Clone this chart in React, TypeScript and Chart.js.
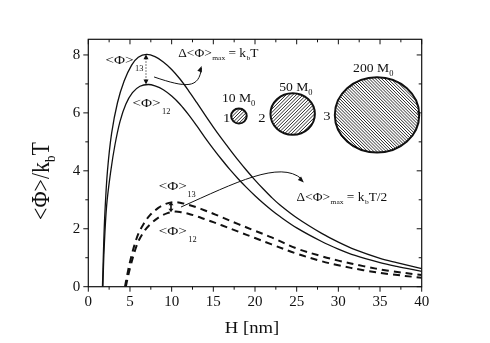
import React, { useEffect, useRef } from "react";
import { Chart, registerables } from "chart.js";

Chart.register(...registerables);

// ---- data ----
const hSolid13 = [1.7, 1.85, 2.0, 2.3, 2.8, 3.5, 4.3, 5.2, 6.0, 7, 8, 9, 10, 11, 12, 13, 14, 15, 16, 17, 18, 19, 20, 21, 22, 23, 25, 28, 30, 32, 35, 37, 40];
const phiSolid13 = [0, 1.5, 2.6, 4.0, 5.3, 6.35, 7.1, 7.65, 7.92, 8.02, 7.94, 7.76, 7.5, 7.17, 6.78, 6.36, 5.93, 5.51, 5.11, 4.73, 4.36, 4.01, 3.68, 3.37, 3.08, 2.82, 2.38, 1.84, 1.54, 1.28, 0.98, 0.83, 0.62];

const hSolid12 = [1.75, 1.9, 2.2, 2.7, 3.2, 3.8, 4.5, 5.3, 6.2, 7.2, 8, 9, 10, 11, 12, 13, 14, 15, 16, 17, 18, 19, 20, 21, 22, 23, 25, 28, 30, 32, 35, 37, 40];
const phiSolid12 = [0, 1.3, 2.8, 4.0, 4.9, 5.7, 6.3, 6.7, 6.92, 6.98, 6.93, 6.8, 6.58, 6.3, 5.95, 5.56, 5.15, 4.76, 4.39, 4.04, 3.72, 3.42, 3.14, 2.88, 2.64, 2.42, 2.03, 1.56, 1.3, 1.08, 0.83, 0.7, 0.53];

const hDash13 = [4.4, 4.7, 5.0, 5.5, 6.0, 6.6, 7.4, 8.4, 9.3, 10.2, 11, 12, 13, 14, 15, 16, 18, 20, 22, 25, 28, 30, 33, 36, 40];
const phiDash13 = [0, 0.45, 0.85, 1.4, 1.82, 2.15, 2.47, 2.72, 2.86, 2.92, 2.9, 2.83, 2.74, 2.63, 2.52, 2.4, 2.16, 1.93, 1.7, 1.32, 1.05, 0.9, 0.71, 0.55, 0.4];

const hDash12 = [4.5, 4.8, 5.1, 5.6, 6.1, 6.8, 7.6, 8.6, 9.5, 10.3, 11, 12, 13, 14, 15, 16, 18, 20, 22, 25, 28, 30, 33, 36, 40];
const phiDash12 = [0, 0.4, 0.75, 1.25, 1.62, 1.95, 2.2, 2.42, 2.54, 2.59, 2.58, 2.52, 2.43, 2.33, 2.23, 2.12, 1.9, 1.68, 1.46, 1.14, 0.88, 0.74, 0.57, 0.44, 0.31];

const xMin = 0;
const xMax = 40;
const xStep = 5;
const yMin = 0;
const yMax = 8.54;
const yStep = 2;

const SERIF = '"Liberation Serif", "Times New Roman", Times, serif';
const INK = "#111111";

type Seg = { t: string; size: number; dy?: number; dx?: number };

function drawRich(ctx: CanvasRenderingContext2D, segs: Seg[], x: number, y: number, sx: number) {
  ctx.save();
  ctx.translate(x, y);
  ctx.scale(sx, 1);
  ctx.textBaseline = "alphabetic";
  ctx.textAlign = "left";
  let cx = 0;
  for (const s of segs) {
    cx += s.dx || 0;
    ctx.font = `${s.size}px ${SERIF}`;
    ctx.fillText(s.t, cx, s.dy || 0);
    cx += ctx.measureText(s.t).width;
  }
  ctx.restore();
}

function richWidth(ctx: CanvasRenderingContext2D, segs: Seg[]) {
  let w = 0;
  for (const s of segs) {
    ctx.font = `${s.size}px ${SERIF}`;
    w += (s.dx || 0) + ctx.measureText(s.t).width;
  }
  return w;
}

function arrowHead(ctx: CanvasRenderingContext2D, x: number, y: number, ang: number, len: number, half: number) {
  ctx.beginPath();
  ctx.moveTo(x, y);
  ctx.lineTo(x - len * Math.cos(ang) + half * Math.sin(ang), y - len * Math.sin(ang) - half * Math.cos(ang));
  ctx.lineTo(x - len * Math.cos(ang) - half * Math.sin(ang), y - len * Math.sin(ang) + half * Math.cos(ang));
  ctx.closePath();
  ctx.fill();
}

function hatchEllipse(ctx: CanvasRenderingContext2D, cx: number, cy: number, rx: number, ry: number, spacing: number, dir: number) {
  ctx.save();
  ctx.beginPath();
  ctx.ellipse(cx, cy, rx, ry, 0, 0, Math.PI * 2);
  ctx.clip();
  ctx.lineWidth = 0.9;
  ctx.strokeStyle = INK;
  const R = Math.max(rx, ry) * 1.5;
  ctx.beginPath();
  for (let k = -R * 2; k <= R * 2; k += spacing) {
    ctx.moveTo(cx + k - R, cy + dir * R);
    ctx.lineTo(cx + k + R, cy - dir * R);
  }
  ctx.stroke();
  ctx.restore();
  ctx.beginPath();
  ctx.ellipse(cx, cy, rx, ry, 0, 0, Math.PI * 2);
  ctx.lineWidth = 2;
  ctx.strokeStyle = INK;
  ctx.stroke();
}

const decorPlugin = {
  id: "decor",
  afterDraw(chart: any) {
    const ctx: CanvasRenderingContext2D = chart.ctx;
    const xs = chart.scales.x;
    const ys = chart.scales.y;
    const a = chart.chartArea;
    const X = (v: number) => xs.getPixelForValue(v);
    const Y = (v: number) => ys.getPixelForValue(v);
    ctx.save();
    ctx.fillStyle = INK;
    ctx.strokeStyle = INK;

    // frame
    ctx.lineWidth = 1.2;
    ctx.strokeRect(a.left, a.top, a.right - a.left, a.bottom - a.top);

    // ticks (major from the library's scales, minor halfway between)
    ctx.lineWidth = 1;
    ctx.beginPath();
    const xt: number[] = xs.ticks.map((t: any) => t.value);
    for (let i = 0; i < xt.length; i++) {
      const px = X(xt[i]);
      ctx.moveTo(px, a.bottom); ctx.lineTo(px, a.bottom + 5);
      ctx.moveTo(px, a.top); ctx.lineTo(px, a.top + 5);
      if (i < xt.length - 1) {
        const pm = X((xt[i] + xt[i + 1]) / 2);
        ctx.moveTo(pm, a.bottom); ctx.lineTo(pm, a.bottom + 3);
        ctx.moveTo(pm, a.top); ctx.lineTo(pm, a.top + 3);
      }
    }
    const yt: number[] = ys.ticks.map((t: any) => t.value);
    for (let i = 0; i < yt.length; i++) {
      const py = Y(yt[i]);
      ctx.moveTo(a.left, py); ctx.lineTo(a.left - 5, py);
      ctx.moveTo(a.right, py); ctx.lineTo(a.right - 5, py);
      const next = i < yt.length - 1 ? yt[i + 1] : yt[i] + yStep;
      const mid = (yt[i] + next) / 2;
      if (mid < yMax) {
        const pm = Y(mid);
        ctx.moveTo(a.left, pm); ctx.lineTo(a.left - 3, pm);
        ctx.moveTo(a.right, pm); ctx.lineTo(a.right - 3, pm);
      }
    }
    ctx.stroke();

    // axis titles
    {
      const segs: Seg[] = [{ t: "H [nm]", size: 16.5 }];
      const w = richWidth(ctx, segs) * 1.13;
      drawRich(ctx, segs, (a.left + a.right) / 2 - w / 2 - 3, 333, 1.13);
    }
    {
      const segs: Seg[] = [
        { t: "<Φ>/k", size: 22 },
        { t: "b", size: 13, dy: 6 },
        { t: "T", size: 22 },
      ];
      const w = richWidth(ctx, segs);
      ctx.save();
      ctx.translate(48.5, (a.top + a.bottom) / 2 + 18);
      ctx.scale(1.15, 1);
      ctx.rotate(-Math.PI / 2);
      drawRich(ctx, segs, -w / 2, 0, 1);
      ctx.restore();
    }

    // solid-curve labels
    drawRich(ctx, [{ t: "<Φ>", size: 13.5 }], X(2.05), Y(7.69), 1.12);
    drawRich(ctx, [{ t: "13", size: 8 }], X(5.6), Y(7.45), 1.05);
    drawRich(ctx, [{ t: "<Φ>", size: 13.5 }], X(5.3), Y(6.21), 1.12);
    drawRich(ctx, [{ t: "12", size: 8 }], X(8.84), Y(5.96), 1.05);

    // dotted double arrow between solid peaks
    ctx.save();
    ctx.strokeStyle = "#777";
    ctx.lineWidth = 1.3;
    ctx.setLineDash([1.5, 1.5]);
    ctx.beginPath();
    ctx.moveTo(X(6.92), Y(8.02) + 4);
    ctx.lineTo(X(6.92), Y(6.98) - 4);
    ctx.stroke();
    ctx.restore();
    arrowHead(ctx, X(6.92), Y(8.02), -Math.PI / 2, 5, 2.5);
    arrowHead(ctx, X(6.92), Y(6.98), Math.PI / 2, 5, 2.5);

    // Δ<Φ>max = kbT
    const sub = (t: string): Seg => ({ t, size: 7, dy: 3.5, dx: 0.5 });
    drawRich(ctx, [{ t: "Δ<Φ>", size: 12.5 }, sub("max"), { t: " = k", size: 12.5 }, sub("b"), { t: "T", size: 12.5 }], X(10.79), Y(7.93), 1.07);

    // curved arrow 1
    ctx.lineWidth = 1;
    ctx.beginPath();
    ctx.moveTo(X(7.89), Y(7.24));
    ctx.bezierCurveTo(X(11.76), Y(6.86), X(13.3), Y(6.83), X(13.57), Y(7.55));
    ctx.stroke();
    arrowHead(ctx, X(13.6), Y(7.62), -Math.PI / 2 + 0.35, 6, 2.4);

    // particles
    hatchEllipse(ctx, X(18.07), Y(5.89), 7.8, 7.5, 3.4, 1);
    hatchEllipse(ctx, X(24.52), Y(5.96), 22.2, 20.8, 3.4, 1);
    hatchEllipse(ctx, X(34.64), Y(5.93), 42.2, 37.7, 3.1, -1);
    ctx.fillStyle = INK;
    drawRich(ctx, [{ t: "1", size: 13.5 }], X(16.15), Y(5.7), 1.08);
    drawRich(ctx, [{ t: "2", size: 13.5 }], X(20.38), Y(5.7), 1.08);
    drawRich(ctx, [{ t: "3", size: 13.5 }], X(28.18), Y(5.76), 1.08);
    const m0 = (n: string): Seg[] => [{ t: n + " M", size: 13 }, { t: "0", size: 8, dy: 4 }];
    drawRich(ctx, m0("10"), X(16.03), Y(6.38), 1.05);
    drawRich(ctx, m0("50"), X(22.9), Y(6.76), 1.05);
    drawRich(ctx, m0("200"), X(31.77), Y(7.4), 1.05);

    // dashed-curve labels
    drawRich(ctx, [{ t: "<Φ>", size: 13.5 }], X(8.45), Y(3.34), 1.12);
    drawRich(ctx, [{ t: "13", size: 8 }], X(11.87), Y(3.1), 1.05);
    drawRich(ctx, [{ t: "<Φ>", size: 13.5 }], X(8.45), Y(1.79), 1.12);
    drawRich(ctx, [{ t: "12", size: 8 }], X(11.99), Y(1.56), 1.05);

    // small bar between dashed peaks
    ctx.lineWidth = 1.6;
    ctx.beginPath();
    ctx.moveTo(X(9.92), Y(2.93) + 3);
    ctx.lineTo(X(9.92), Y(2.57) - 3);
    ctx.stroke();
    arrowHead(ctx, X(9.92), Y(2.93), -Math.PI / 2, 3.5, 2.5);
    arrowHead(ctx, X(9.92), Y(2.57), Math.PI / 2, 3.5, 2.5);

    // curved arrow 2
    ctx.lineWidth = 1;
    ctx.beginPath();
    ctx.moveTo(X(11.12), Y(2.75));
    ctx.bezierCurveTo(X(17.59), Y(3.58), X(22.98), Y(4.38), X(25.6), Y(3.72));
    ctx.stroke();
    arrowHead(ctx, X(25.86), Y(3.6), 0.75, 6, 2.4);

    drawRich(ctx, [{ t: "Δ<Φ>", size: 12.5 }, sub("max"), { t: " = k", size: 12.5 }, sub("b"), { t: "T/2", size: 12.5 }], X(24.99), Y(2.96), 1.07);

    ctx.restore();
  },
};

function pts(h: number[], v: number[]) {
  return h.map((x, i) => ({ x, y: v[i] }));
}

export default function App() {
  const ref = useRef<HTMLCanvasElement | null>(null);
  useEffect(() => {
    if (!ref.current) return;
    const tickFont = { family: SERIF, size: 15 };
    const line = { borderColor: INK, tension: 0.35, cubicInterpolationMode: "default" };
    const chart = new Chart(ref.current, {
      type: "line",
      data: {
        datasets: [
          { label: "<Φ>13", data: pts(hSolid13, phiSolid13), borderWidth: 1.3, ...line },
          { label: "<Φ>12", data: pts(hSolid12, phiSolid12), borderWidth: 1.3, ...line },
          { label: "<Φ>13 (2)", data: pts(hDash13, phiDash13), borderWidth: 2, borderDash: [7, 5], ...line },
          { label: "<Φ>12 (2)", data: pts(hDash12, phiDash12), borderWidth: 2, borderDash: [7, 5], ...line },
        ],
      } as any,
      options: {
        animation: false,
        responsive: false,
        devicePixelRatio: 1,
        layout: { padding: { left: 0, top: 39.3, right: 68.3, bottom: 0 } },
        elements: { point: { radius: 0 } },
        plugins: { legend: { display: false }, tooltip: { enabled: false }, title: { display: false } },
        scales: {
          x: {
            type: "linear",
            min: xMin,
            max: xMax,
            grid: { display: false, drawTicks: false },
            border: { display: false },
            ticks: { stepSize: xStep, font: tickFont, color: INK, padding: 6, maxRotation: 0, includeBounds: false },
            afterFit: (s: any) => { s.height = 56.3; },
          },
          y: {
            type: "linear",
            min: yMin,
            max: yMax,
            grid: { display: false, drawTicks: false },
            border: { display: false },
            ticks: { stepSize: yStep, font: tickFont, color: INK, padding: 8, includeBounds: false },
            afterFit: (s: any) => { s.width = 88.3; },
          },
        },
      } as any,
      plugins: [decorPlugin],
    });
    return () => chart.destroy();
  }, []);
  return (
    <div style={{ position: "absolute", left: 0, top: 0, width: 490, height: 343, background: "#fff" }}>
      <canvas ref={ref} width={490} height={343} style={{ display: "block", width: 490, height: 343 }} />
    </div>
  );
}
